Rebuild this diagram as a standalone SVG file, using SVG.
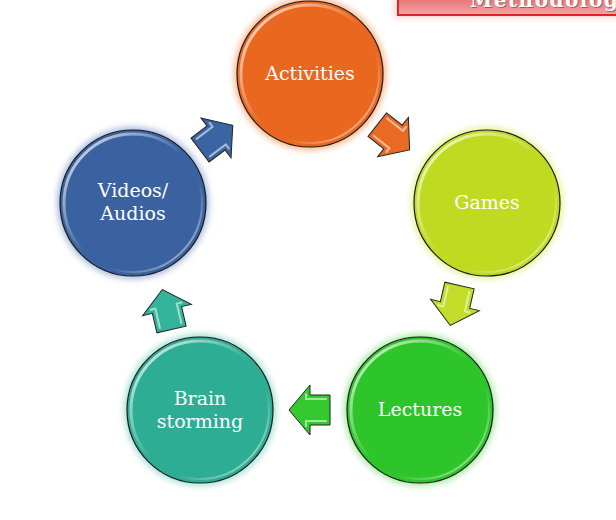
<svg xmlns="http://www.w3.org/2000/svg" width="616" height="520" viewBox="0 0 616 520">
<defs>
  <filter id="glow" x="-30%" y="-30%" width="160%" height="160%">
    <feGaussianBlur stdDeviation="3"/>
  </filter>
  <linearGradient id="banner" x1="0" y1="0" x2="0" y2="1">
    <stop offset="0" stop-color="#E05A5A"/>
    <stop offset="1" stop-color="#F4A6A6"/>
  </linearGradient>
  <linearGradient id="hl" x1="0" y1="0" x2="1" y2="1">
    <stop offset="0" stop-color="#fff" stop-opacity="0.9"/>
    <stop offset="0.5" stop-color="#fff" stop-opacity="0"/>
  </linearGradient>
  <linearGradient id="hl2" x1="1" y1="1" x2="0" y2="0">
    <stop offset="0" stop-color="#fff" stop-opacity="0.7"/>
    <stop offset="0.35" stop-color="#fff" stop-opacity="0"/>
  </linearGradient>
  <path id="arrow" d="M-20,-15 L0,-15 L0,-25 L21,0 L0,25 L0,15 L-20,15 Z"/>
  <path id="bevel" d="M-16,-11 L4,-11 L4,-16 M4,16 L4,11 L-16,11" />
</defs>
<style>
  .glow { filter: url(#glow); }
  .ring { stroke: #1a1a1a; stroke-width: 1.2; }
  .hi { fill: none; stroke: url(#hl); stroke-width: 3; }
  .hi2 { fill: none; stroke: url(#hl2); stroke-width: 2; }
  .lbl { font-family: "DejaVu Serif", "Liberation Serif", serif; font-size: 19px; fill: #ffffff; text-anchor: middle; }
  .arr { stroke: #222; stroke-width: 1; stroke-linejoin: miter; }
  .bev { fill: none; stroke: #ffffff; stroke-opacity: 0.55; stroke-width: 2; stroke-linecap: round; }
</style>
<rect width="616" height="520" fill="#ffffff"/>

<g id="banner-title">
  <rect x="394" y="-14" width="240" height="32" fill="#F2B5B5" opacity="0.6" class="glow"/>
  <rect x="398" y="-10" width="230" height="25" fill="url(#banner)" stroke="#E02424" stroke-width="2"/>
  <text x="471" y="8" font-family="DejaVu Serif, Liberation Serif, serif" font-weight="bold" font-size="20" letter-spacing="1.5" fill="#555" opacity="0.7">Methodology</text>
  <text x="470" y="7" font-family="DejaVu Serif, Liberation Serif, serif" font-weight="bold" font-size="20" letter-spacing="1.5" fill="#ffffff">Methodology</text>
</g>

<g id="connectors">
  <g transform="translate(393,137) rotate(38)">
    <use href="#arrow" class="arr" fill="#E96A22"/>
    <use href="#bevel" class="bev"/>
  </g>
  <g transform="translate(455,305) rotate(103)">
    <use href="#arrow" class="arr" fill="#C2DC2A"/>
    <use href="#bevel" class="bev"/>
  </g>
  <g transform="translate(310,410) rotate(180)">
    <use href="#arrow" class="arr" fill="#35C930"/>
    <use href="#bevel" class="bev"/>
  </g>
  <g transform="translate(167,310) rotate(-103)">
    <use href="#arrow" class="arr" fill="#33B49A"/>
    <use href="#bevel" class="bev"/>
  </g>
  <g transform="translate(216,138) rotate(-37)">
    <use href="#arrow" class="arr" fill="#3B64A2"/>
    <use href="#bevel" class="bev"/>
  </g>
</g>

<g id="activities">
  <circle cx="310" cy="74" r="76" fill="#F7B48A" class="glow"/>
  <circle cx="310" cy="74" r="73" fill="#E9671F" class="ring"/>
  <circle cx="310" cy="74" r="69" class="hi"/>
  <circle cx="310" cy="74" r="69" class="hi2"/>
  <text x="310" y="80" class="lbl">Activities</text>
</g>

<g id="games">
  <circle cx="487" cy="203" r="76" fill="#E6F29A" class="glow"/>
  <circle cx="487" cy="203" r="73" fill="#BFDB21" class="ring"/>
  <circle cx="487" cy="203" r="69" class="hi"/>
  <circle cx="487" cy="203" r="69" class="hi2"/>
  <text x="487" y="209" class="lbl">Games</text>
</g>

<g id="lectures">
  <circle cx="420" cy="410" r="76" fill="#A6E8A2" class="glow"/>
  <circle cx="420" cy="410" r="73" fill="#2EC52A" class="ring"/>
  <circle cx="420" cy="410" r="69" class="hi"/>
  <circle cx="420" cy="410" r="69" class="hi2"/>
  <text x="420" y="416" class="lbl">Lectures</text>
</g>

<g id="brainstorming">
  <circle cx="200" cy="410" r="76" fill="#A5DFD3" class="glow"/>
  <circle cx="200" cy="410" r="73" fill="#2EAD95" class="ring"/>
  <circle cx="200" cy="410" r="69" class="hi"/>
  <circle cx="200" cy="410" r="69" class="hi2"/>
  <text x="200" y="405" class="lbl">Brain</text>
  <text x="200" y="428" class="lbl">storming</text>
</g>

<g id="videos">
  <circle cx="133" cy="203" r="76" fill="#A9BCDC" class="glow"/>
  <circle cx="133" cy="203" r="73" fill="#3A62A0" class="ring"/>
  <circle cx="133" cy="203" r="69" class="hi"/>
  <circle cx="133" cy="203" r="69" class="hi2"/>
  <text x="133" y="197" class="lbl">Videos/</text>
  <text x="133" y="220" class="lbl">Audios</text>
</g>
</svg>
